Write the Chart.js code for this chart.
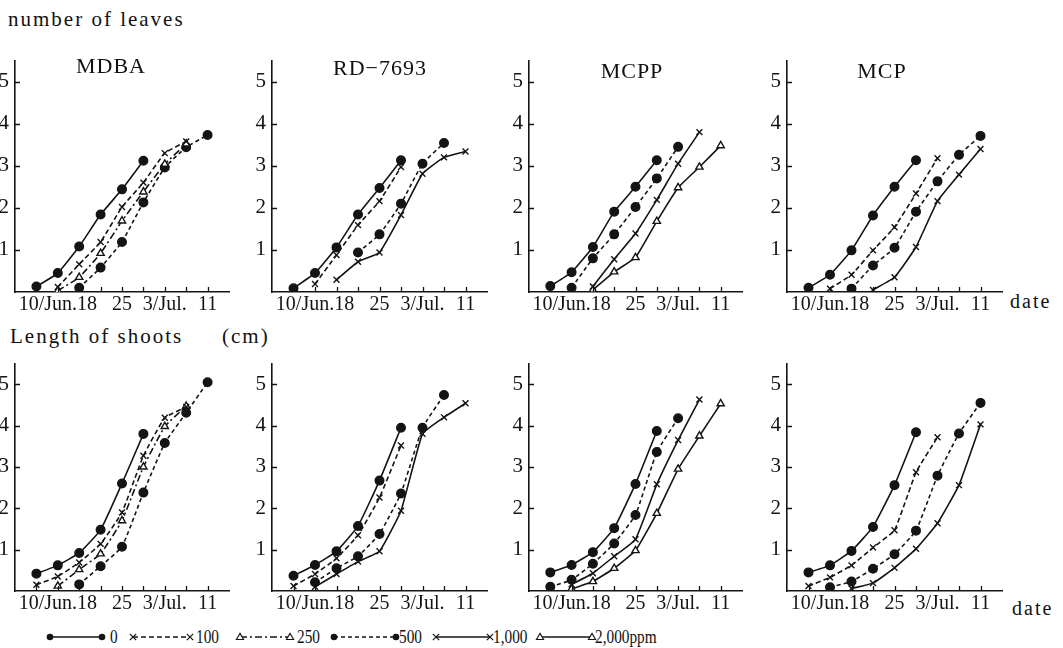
<!DOCTYPE html>
<html>
<head>
<meta charset="utf-8">
<script src="https://cdn.jsdelivr.net/npm/chart.js@4.4.1/dist/chart.umd.min.js"></script>
<style>
  html, body { margin:0; padding:0; background:#fff; width:1063px; height:648px; overflow:hidden; position:relative; }
  canvas { position:absolute; }
  .txt { position:absolute; font-family:"Liberation Serif","DejaVu Serif",serif; color:#111; white-space:nowrap; line-height:1; }
  .lg { position:absolute; }
</style>
</head>
<body>
<div class="txt" style="left:8px;top:9px;font-size:21px;letter-spacing:2px;">number of leaves</div>
<div class="txt" style="left:10px;top:326px;font-size:21px;letter-spacing:2px;">Length of shoots</div>
<div class="txt" style="left:222px;top:326px;font-size:21px;letter-spacing:2px;">(cm)</div>
<div class="txt" style="left:1010px;top:291px;font-size:20px;letter-spacing:2px;">date</div>
<div class="txt" style="left:1012px;top:598px;font-size:20px;letter-spacing:2px;">date</div>
<div id="legend"></div>
<script>
// ---------- data ----------
const dayIndex = [0, 1, 2, 3, 4, 5, 6, 7, 8];           // 10/Jun,14,18,21,25,28,3/Jul,7,11
const xTickLabels = ['', '10/Jun.18', '', '', '25', '', '3/Jul.', '', '11'];
const yTickLabels = ['', '1', '2', '3', '4', '5'];
const concentrations = ['0', '100', '250', '500', '1000', '2000'];
const legendLabels = ['0', '100', '250', '500', '1,000', '2,000ppm'];
const panelTitles = ['MDBA', 'RD\u22127693', 'MCPP', 'MCP'];

// number of leaves
const leaves_MDBA_0   = [0.13, 0.45, 1.08, 1.84, 2.44, 3.12, null, null, null];
const leaves_MDBA_100 = [null, 0.12, 0.66, 1.19, 2.02, 2.60, 3.30, 3.58, null];
const leaves_MDBA_250 = [null, 0.03, 0.35, 0.92, 1.69, 2.38, 3.04, 3.52, null];
const leaves_MDBA_500 = [null, null, 0.10, 0.58, 1.19, 2.13, 2.96, 3.44, 3.73];

const leaves_RD_0    = [0.09, 0.45, 1.06, 1.84, 2.47, 3.13, null, null, null];
const leaves_RD_100  = [null, 0.19, 0.88, 1.59, 2.16, 2.97, null, null, null];
const leaves_RD_500  = [null, null, null, 0.94, 1.37, 2.10, 3.05, 3.54, null];
const leaves_RD_1000 = [null, null, 0.29, 0.72, 0.94, 1.83, 2.81, 3.20, 3.34];

const leaves_MCPP_0    = [0.14, 0.47, 1.07, 1.91, 2.50, 3.13, null, null, null];
const leaves_MCPP_500  = [null, 0.10, 0.80, 1.37, 2.02, 2.70, 3.45, null, null];
const leaves_MCPP_1000 = [null, null, 0.13, 0.78, 1.39, 2.19, 3.05, 3.80, null];
const leaves_MCPP_2000 = [null, null, 0.05, 0.48, 0.82, 1.68, 2.48, 2.97, 3.48];

const leaves_MCP_0    = [0.10, 0.41, 0.99, 1.82, 2.50, 3.13, null, null, null];
const leaves_MCP_100  = [null, 0.08, 0.41, 0.99, 1.54, 2.34, 3.18, null, null];
const leaves_MCP_500  = [null, null, 0.08, 0.63, 1.05, 1.91, 2.63, 3.26, 3.71];
const leaves_MCP_1000 = [null, null, null, 0.05, 0.35, 1.07, 2.16, 2.79, 3.40];

// length of shoots (cm)
const shoots_MDBA_0   = [0.42, 0.62, 0.92, 1.48, 2.60, 3.80, null, null, null];
const shoots_MDBA_100 = [0.15, 0.35, 0.69, 1.14, 1.90, 3.27, 4.19, 4.45, null];
const shoots_MDBA_250 = [null, 0.12, 0.52, 0.90, 1.70, 3.00, 3.98, 4.47, null];
const shoots_MDBA_500 = [null, null, 0.16, 0.60, 1.07, 2.38, 3.58, 4.31, 5.05];

const shoots_RD_0    = [0.37, 0.63, 0.96, 1.57, 2.67, 3.95, null, null, null];
const shoots_RD_100  = [0.12, 0.41, 0.79, 1.35, 2.26, 3.52, null, null, null];
const shoots_RD_500  = [null, 0.21, 0.55, 0.84, 1.38, 2.36, 3.95, 4.74, null];
const shoots_RD_1000 = [null, 0.10, 0.41, 0.71, 0.96, 1.94, 3.80, 4.20, 4.54];

const shoots_MCPP_0    = [0.45, 0.63, 0.94, 1.52, 2.59, 3.87, null, null, null];
const shoots_MCPP_500  = [0.10, 0.27, 0.66, 1.15, 1.84, 3.36, 4.18, null, null];
const shoots_MCPP_1000 = [null, 0.16, 0.43, 0.84, 1.25, 2.58, 3.65, 4.63, null];
const shoots_MCPP_2000 = [null, 0.05, 0.23, 0.55, 0.98, 1.88, 2.95, 3.75, 4.53];

const shoots_MCP_0    = [0.45, 0.62, 0.97, 1.55, 2.56, 3.84, null, null, null];
const shoots_MCP_100  = [0.12, 0.33, 0.62, 1.05, 1.47, 2.87, 3.72, null, null];
const shoots_MCP_500  = [null, 0.09, 0.23, 0.54, 0.89, 1.46, 2.79, 3.81, 4.55];
const shoots_MCP_1000 = [null, null, 0.06, 0.19, 0.56, 1.02, 1.64, 2.56, 4.03];

// ---------- styles ----------
const INK = '#141414';
const seriesStyle = {
  '0':    { dash: [],           point: 'circle',   r: 4.3, fill: INK },
  '100':  { dash: [5, 3],       point: 'crossRot', r: 4.2, fill: INK },
  '250':  { dash: [7, 3, 2, 3], point: 'triangle', r: 4.2, fill: '#fff' },
  '500':  { dash: [4, 3],       point: 'circle',   r: 4.3, fill: INK },
  '1000': { dash: [],           point: 'crossRot', r: 4.2, fill: INK },
  '2000': { dash: [],           point: 'triangle', r: 4.2, fill: '#fff' }
};

const columns = [[15, 229], [272, 487], [529, 742], [787, 1002]];
const rows = [[56, 292], [359, 591]];

const panels = [
  { row: 0, col: 0, title: panelTitles[0], series: [['0', leaves_MDBA_0], ['100', leaves_MDBA_100], ['250', leaves_MDBA_250], ['500', leaves_MDBA_500]] },
  { row: 0, col: 1, title: panelTitles[1], series: [['0', leaves_RD_0], ['100', leaves_RD_100], ['500', leaves_RD_500], ['1000', leaves_RD_1000]] },
  { row: 0, col: 2, title: panelTitles[2], series: [['0', leaves_MCPP_0], ['500', leaves_MCPP_500], ['1000', leaves_MCPP_1000], ['2000', leaves_MCPP_2000]] },
  { row: 0, col: 3, title: panelTitles[3], series: [['0', leaves_MCP_0], ['100', leaves_MCP_100], ['500', leaves_MCP_500], ['1000', leaves_MCP_1000]] },
  { row: 1, col: 0, series: [['0', shoots_MDBA_0], ['100', shoots_MDBA_100], ['250', shoots_MDBA_250], ['500', shoots_MDBA_500]] },
  { row: 1, col: 1, series: [['0', shoots_RD_0], ['100', shoots_RD_100], ['500', shoots_RD_500], ['1000', shoots_RD_1000]] },
  { row: 1, col: 2, series: [['0', shoots_MCPP_0], ['500', shoots_MCPP_500], ['1000', shoots_MCPP_1000], ['2000', shoots_MCPP_2000]] },
  { row: 1, col: 3, series: [['0', shoots_MCP_0], ['100', shoots_MCP_100], ['500', shoots_MCP_500], ['1000', shoots_MCP_1000]] }
];
const titlePos = [[111, 55], [380, 57], [632, 60], [882, 60]];

// inward tick marks as in the original figure
const innerTicks = {
  id: 'innerTicks',
  afterDraw(chart) {
    const { ctx, chartArea: a, scales: { x, y } } = chart;
    ctx.save();
    ctx.strokeStyle = INK;
    ctx.lineWidth = 1.3;
    ctx.setLineDash([]);
    ctx.beginPath();
    dayIndex.forEach(d => {
      const px = Math.round(x.getPixelForValue(d)) + 0.5;
      ctx.moveTo(px, a.bottom);
      ctx.lineTo(px, a.bottom - 5);
    });
    for (let v = 1; v < yTickLabels.length; v++) {
      const py = Math.round(y.getPixelForValue(v)) + 0.5;
      ctx.moveTo(a.left, py);
      ctx.lineTo(a.left + 5, py);
    }
    ctx.stroke();
    ctx.restore();
  }
};

const PAD_TOP = 14, PAD_RIGHT = 8, YW = 34, XH = 32;
const FONT = 'Liberation Serif';

panels.forEach((p, k) => {
  const [pl, pr] = columns[p.col];
  const [pt, pb] = rows[p.row];
  const cv = document.createElement('canvas');
  const w = pr - pl + YW + PAD_RIGHT;
  const h = pb - pt + PAD_TOP + XH;
  cv.width = w; cv.height = h;
  cv.style.left = (pl - YW) + 'px';
  cv.style.top = (pt - PAD_TOP) + 'px';
  cv.style.width = w + 'px'; cv.style.height = h + 'px';
  document.body.appendChild(cv);

  const datasets = p.series.map(([conc, vals]) => {
    const st = seriesStyle[conc];
    return {
      label: conc,
      data: vals.map((v, i) => v == null ? null : { x: dayIndex[i], y: v }).filter(Boolean),
      borderColor: INK,
      borderWidth: 1.6,
      borderDash: st.dash,
      pointStyle: st.point,
      pointRadius: st.r,
      pointBackgroundColor: st.fill,
      pointBorderColor: INK,
      pointBorderWidth: 1.4,
      tension: 0.12,
      fill: false
    };
  });

  new Chart(cv, {
    type: 'line',
    data: { datasets },
    options: {
      responsive: false,
      animation: false,
      layout: { padding: { top: PAD_TOP, right: PAD_RIGHT, left: 0, bottom: 0 } },
      plugins: { legend: { display: false }, tooltip: { enabled: false } },
      scales: {
        x: {
          type: 'linear', min: -1, max: 9,
          afterFit(s) { s.height = XH; },
          grid: { display: false, drawTicks: false },
          border: { display: true, color: INK, width: 1.6 },
          ticks: {
            stepSize: 1, autoSkip: false, maxRotation: 0, minRotation: 0, padding: 1,
            color: INK, font: { family: FONT, size: 20 },
            callback: v => xTickLabels[v] ?? ''
          }
        },
        y: {
          type: 'linear', min: 0, max: 5.5,
          afterFit(s) { s.width = YW; },
          grid: { display: false, drawTicks: false },
          border: { display: true, color: INK, width: 1.6 },
          ticks: {
            stepSize: 1, includeBounds: false, padding: 6,
            color: INK, font: { family: FONT, size: 21 },
            callback: v => yTickLabels[v] ?? ''
          }
        }
      }
    },
    plugins: [innerTicks]
  });

  if (p.title) {
    const t = document.createElement('div');
    t.className = 'txt';
    t.textContent = p.title;
    t.style.fontSize = '22px';
    t.style.letterSpacing = '1px';
    t.style.top = titlePos[p.col][1] + 'px';
    t.style.left = titlePos[p.col][0] + 'px';
    t.style.transform = 'translateX(-50%)';
    document.body.appendChild(t);
  }
});

// ---------- legend ----------
const legendGeom = [[50, 102, 110], [133, 190, 196], [240, 290, 297], [334, 396, 399], [436, 490, 493], [540, 592, 595]];
const legendY = 637;
const svgNS = 'http://www.w3.org/2000/svg';
function marker(svg, kind, cx, cy, fill) {
  if (kind === 'circle') {
    const c = document.createElementNS(svgNS, 'circle');
    c.setAttribute('cx', cx); c.setAttribute('cy', cy); c.setAttribute('r', 3.3);
    c.setAttribute('fill', INK);
    svg.appendChild(c);
  } else if (kind === 'crossRot') {
    const pth = document.createElementNS(svgNS, 'path');
    const r = 3.2;
    pth.setAttribute('d', `M${cx - r},${cy - r}L${cx + r},${cy + r}M${cx - r},${cy + r}L${cx + r},${cy - r}`);
    pth.setAttribute('stroke', INK); pth.setAttribute('stroke-width', 1.2);
    svg.appendChild(pth);
  } else {
    const pg = document.createElementNS(svgNS, 'polygon');
    const r = 3.6;
    pg.setAttribute('points', `${cx},${cy - r} ${cx + r},${cy + r * 0.7} ${cx - r},${cy + r * 0.7}`);
    pg.setAttribute('fill', '#fff'); pg.setAttribute('stroke', INK); pg.setAttribute('stroke-width', 1.1);
    svg.appendChild(pg);
  }
}
const legendBox = document.getElementById('legend');
concentrations.forEach((conc, i) => {
  const st = seriesStyle[conc];
  const [x0, x1, tx] = legendGeom[i];
  const svg = document.createElementNS(svgNS, 'svg');
  const w = x1 - x0 + 10;
  svg.setAttribute('width', w); svg.setAttribute('height', 12);
  svg.style.position = 'absolute';
  svg.style.left = (x0 - 5) + 'px';
  svg.style.top = (legendY - 6) + 'px';
  const ln = document.createElementNS(svgNS, 'line');
  ln.setAttribute('x1', 5); ln.setAttribute('x2', w - 5);
  ln.setAttribute('y1', 6); ln.setAttribute('y2', 6);
  ln.setAttribute('stroke', INK); ln.setAttribute('stroke-width', 1.6);
  if (st.dash.length) ln.setAttribute('stroke-dasharray', st.dash.join(' '));
  svg.appendChild(ln);
  marker(svg, st.point, 5, 6, st.fill);
  marker(svg, st.point, w - 5, 6, st.fill);
  legendBox.appendChild(svg);
  const t = document.createElement('div');
  t.className = 'txt';
  t.textContent = legendLabels[i];
  t.style.left = tx + 'px';
  t.style.top = (legendY - 9) + 'px';
  t.style.fontSize = '18px';
  t.style.transform = 'scaleX(0.85)';
  t.style.transformOrigin = 'left center';
  legendBox.appendChild(t);
});
</script>
</body>
</html>
